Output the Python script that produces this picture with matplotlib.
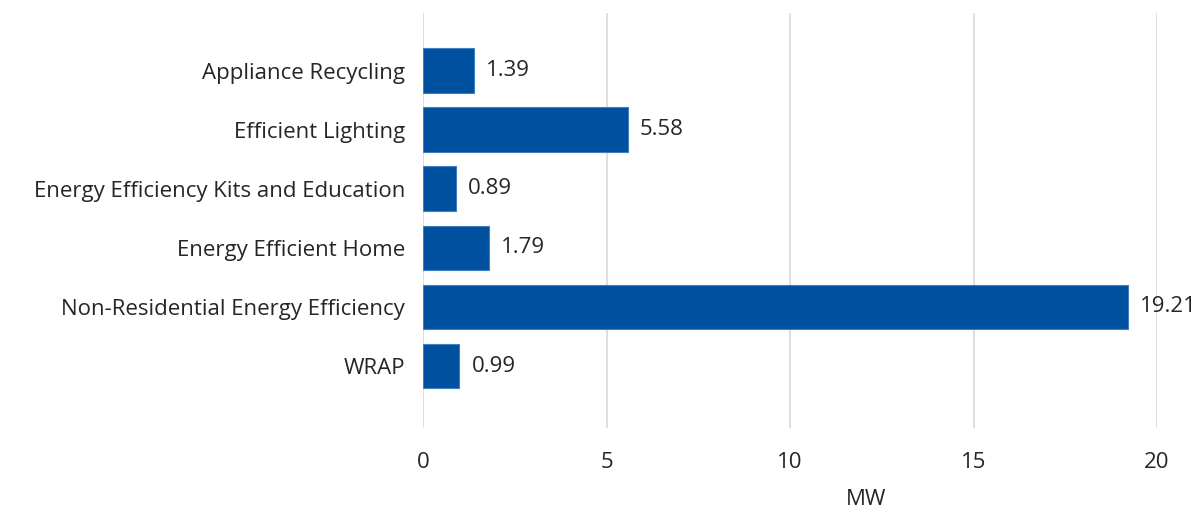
import matplotlib.pyplot as plt

programs = ['Appliance Recycling', 'Efficient Lighting',
            'Energy Efficiency Kits and Education', 'Energy Efficient Home',
            'Non-Residential Energy Efficiency', 'WRAP']
mw = [1.39, 5.58, 0.89, 1.79, 19.21, 0.99]
xticks = [0, 5, 10, 15, 20]

plt.rcParams['font.family'] = ['Open Sans', 'DejaVu Sans']
txt = '#262626'
fs = 16

fig = plt.figure(figsize=(12, 5.16), dpi=100)
ax = fig.add_axes([0.3525, 0.1705, 0.6117, 0.8043])

ypos = list(range(len(programs)))
ax.barh(ypos, mw, height=0.76, color='#0050A0', edgecolor='#3f7fc0', linewidth=0.8, zorder=3)
for y, v in zip(ypos, mw):
    ax.text(v + 0.33, y, f'{v:.2f}', va='center', ha='left', fontsize=fs, color=txt)

ax.set_yticks(ypos)
ax.set_yticklabels(programs, fontsize=fs, color=txt)
ax.set_ylim(6.05, -0.98)
ax.set_xlim(0, 20)
ax.set_xticks(xticks)
ax.set_xticklabels([str(t) for t in xticks], fontsize=fs, color=txt)
ax.tick_params(axis='y', length=0, pad=13)
ax.tick_params(axis='x', length=0, pad=17)
ax.xaxis.grid(True, color='#d9d9d9', linewidth=1.2, zorder=0)
for s in ax.spines.values():
    s.set_visible(False)

# axis title sits right of centre, near the bottom edge
fig.text(0.7217, 0.012, 'MW', ha='center', va='bottom', fontsize=fs, color=txt)

fig.savefig('out.png')
